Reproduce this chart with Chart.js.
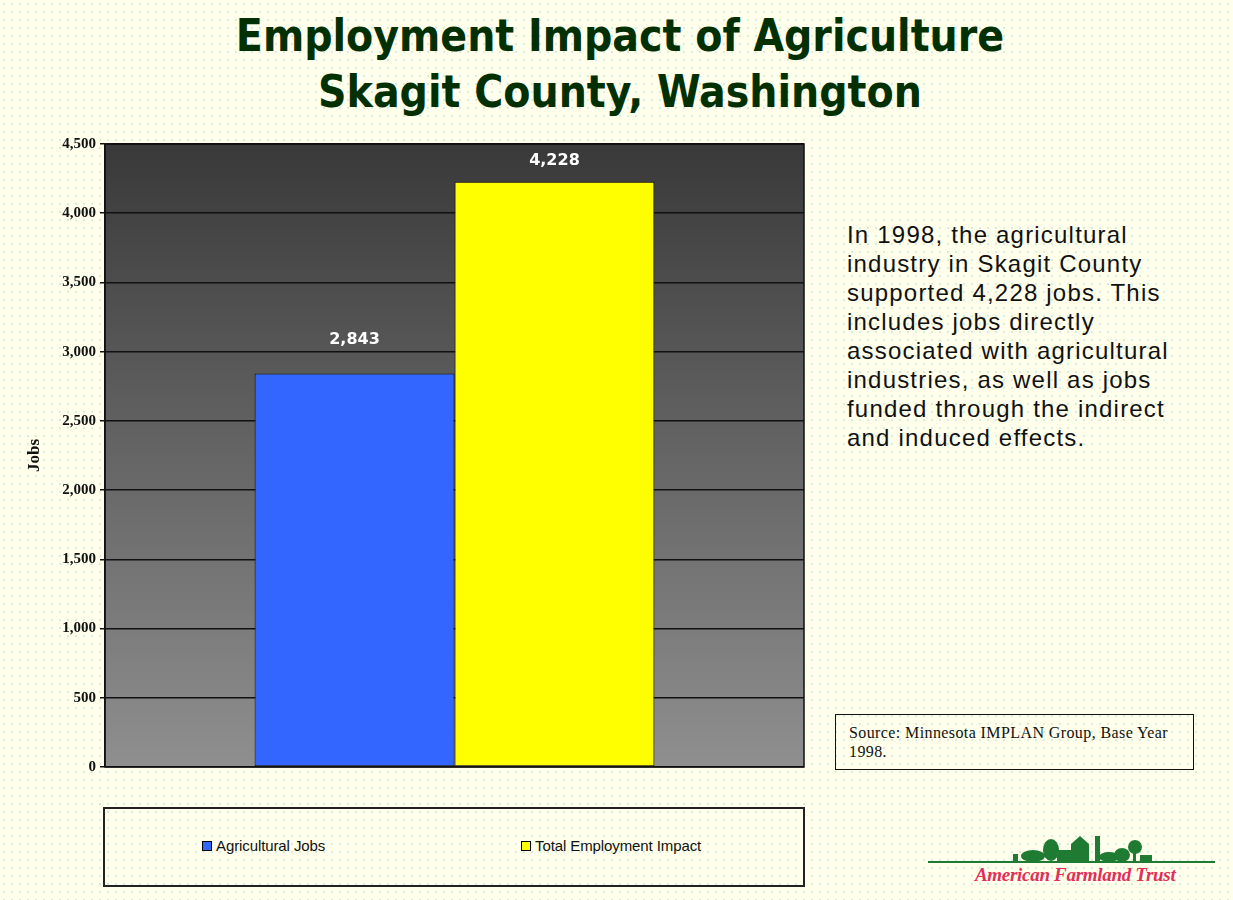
<!DOCTYPE html>
<html>
<head>
<meta charset="utf-8">
<script src="https://cdn.jsdelivr.net/npm/chart.js@4.4.1/dist/chart.umd.min.js"></script>
<style>
  html, body { margin: 0; padding: 0; }
  body {
    width: 1233px; height: 900px; position: relative; overflow: hidden;
    background-color: #ffffec;
    background-image: radial-gradient(#d6eedf 0.9px, transparent 1.2px);
    background-size: 8px 8px;
  }
  .title {
    position: absolute; left: 0; width: 1240px; text-align: center;
    font-family: "DejaVu Sans Condensed", "DejaVu Sans", sans-serif; font-weight: bold;
    font-size: 44px; color: #033003; line-height: 56px;
    top: 8px;
  }
  #wrap { position: absolute; left: 0; top: 130px; width: 815px; height: 650px; }
  #legend {
    position: absolute; left: 103px; top: 807px; width: 698px; height: 76px;
    border: 2px solid #222;
  }
  .leg-item {
    position: absolute; top: 28px; display: flex; align-items: center;
    font-family: "Liberation Sans", Arial, sans-serif; font-size: 15px; color: #111;
    letter-spacing: -0.1px;
  }
  .leg-box { width: 8px; height: 8px; border: 1px solid #000; margin-right: 4px; }
  .note {
    position: absolute; left: 847px; top: 220px; width: 386px;
    font-family: "Liberation Sans", Arial, sans-serif; font-size: 24px; line-height: 29px; color: #111;
    letter-spacing: 1.2px; white-space: nowrap;
  }
  .source {
    position: absolute; left: 835px; top: 714px; width: 359px; height: 56px;
    border: 1.5px solid #111;
    font-family: "Liberation Serif", "Times New Roman", serif; font-size: 16px; line-height: 19px; color: #111;
    letter-spacing: 0.4px;
    box-sizing: border-box; padding: 8px 0 0 13px; white-space: nowrap;
  }
  .logo { position: absolute; left: 925px; top: 830px; width: 295px; height: 60px; }
  .logo-text {
    position: absolute; left: 975px; top: 864px;
    font-family: "Liberation Serif", serif; font-style: italic; font-weight: bold;
    font-size: 19px; color: #e0305a; letter-spacing: -0.3px;
  }
</style>
</head>
<body>
<div class="title">Employment Impact of Agriculture<br>Skagit County, Washington</div>
<div id="wrap"><canvas id="myChart"></canvas></div>
<div id="legend"></div>
<div class="note">In 1998, the agricultural<br>industry in Skagit County<br>supported 4,228 jobs. This<br>includes jobs directly<br>associated with agricultural<br>industries, as well as jobs<br>funded through the indirect<br>and induced effects.</div>
<div class="source">Source: Minnesota IMPLAN Group, Base Year<br>1998.</div>
<svg class="logo" viewBox="0 0 295 60">
  <line x1="3" y1="32" x2="290" y2="32" stroke="#1f7a32" stroke-width="2"/>
  <g fill="#1f7a32">
    <rect x="88" y="24" width="5" height="8"/>
    <ellipse cx="108" cy="26" rx="12" ry="6"/>
    <ellipse cx="126" cy="20" rx="8" ry="11"/>
    <rect x="132" y="20" width="16" height="12"/>
    <polygon points="146,32 146,14 155,6 164,14 164,32"/>
    <rect x="170" y="6" width="5" height="26"/>
    <ellipse cx="184" cy="27" rx="10" ry="5"/>
    <ellipse cx="197" cy="25" rx="8" ry="7"/>
    <ellipse cx="210" cy="17" rx="7" ry="7"/>
    <rect x="208" y="17" width="3" height="15"/>
    <rect x="215" y="25" width="12" height="7"/>
  </g>
</svg>
<div class="logo-text">American Farmland Trust</div>
<script>
let categories = ['Jobs'];
let seriesNames = ['Agricultural Jobs', 'Total Employment Impact'];
let agriculturalJobs = [2843];
let totalImpact = [4228];
let yTicks = [0, 500, 1000, 1500, 2000, 2500, 3000, 3500, 4000, 4500];

// gradient grey plot background + black frame
let plotBg = {
  id: 'plotBg',
  beforeDraw(chart) {
    let a = chart.chartArea;
    let ctx = chart.ctx;
    let g = ctx.createLinearGradient(0, a.top, 0, a.bottom);
    g.addColorStop(0, '#393939');
    g.addColorStop(0.5, '#656565');
    g.addColorStop(1, '#8f8f8f');
    ctx.save();
    ctx.fillStyle = g;
    ctx.fillRect(a.left, a.top, a.right - a.left, a.bottom - a.top);
    ctx.restore();
  },
  afterDraw(chart) {
    let a = chart.chartArea;
    let ctx = chart.ctx;
    ctx.save();
    ctx.strokeStyle = '#111';
    ctx.lineWidth = 1.5;
    ctx.strokeRect(a.left, a.top, a.right - a.left, a.bottom - a.top);
    ctx.restore();
  }
};

// value labels above the bars
let labelOffsets = [34, 21];
let valueLabels = {
  id: 'valueLabels',
  afterDatasetsDraw(chart) {
    let ctx = chart.ctx;
    ctx.save();
    ctx.fillStyle = '#ffffff';
    ctx.font = 'bold 16px "DejaVu Sans", Verdana, sans-serif';
    ctx.textAlign = 'center';
    ctx.textBaseline = 'middle';
    chart.data.datasets.forEach((ds, i) => {
      chart.getDatasetMeta(i).data.forEach((bar, j) => {
        ctx.fillText(ds.data[j].toLocaleString('en-US'), bar.x, bar.y - labelOffsets[i]);
      });
    });
    ctx.restore();
  }
};

let chart = document.getElementById('myChart');
let barConfig = {
  type: 'bar',
  data: {
    labels: categories,
    datasets: [{
      label: seriesNames[0],
      data: agriculturalJobs,
      backgroundColor: '#3366ff',
      borderColor: '#111',
      borderWidth: 1,
      borderSkipped: false
    }, {
      label: seriesNames[1],
      data: totalImpact,
      backgroundColor: '#ffff00',
      borderColor: '#111',
      borderWidth: 1,
      borderSkipped: false
    }]
  },
  options: {
    responsive: true,
    maintainAspectRatio: false,
    animation: false,
    categoryPercentage: 0.572,
    barPercentage: 1,
    layout: { padding: { top: 14, bottom: 13, right: 11, left: 0 } },
    plugins: {
      legend: { display: false },
      tooltip: { enabled: false }
    },
    scales: {
      x: { display: false },
      y: {
        min: 0,
        max: 4500,
        afterBuildTicks: (scale) => { scale.ticks = yTicks.map(v => ({ value: v })); },
        afterFit: (scale) => { scale.width = 105; },
        grid: { color: '#111', lineWidth: 1.5, tickLength: 5, drawTicks: true, tickColor: '#111' },
        border: { color: '#111', width: 1.5 },
        ticks: {
          color: '#111',
          padding: 4,
          font: { family: '"Liberation Serif", "Times New Roman", serif', weight: 'bold', size: 15 },
          callback: function (value) { return value.toLocaleString('en-US'); }
        },
        title: {
          display: true,
          text: 'Jobs',
          color: '#111',
          padding: { top: 24, bottom: 0 },
          font: { family: '"Liberation Serif", "Times New Roman", serif', weight: 'bold', size: 17 }
        }
      }
    }
  },
  plugins: [plotBg, valueLabels]
};
let barChart = new Chart(chart, barConfig);

// html legend from the chart's own legend items
let legendX = [97, 416];
let legendEl = document.getElementById('legend');
barChart.options.plugins.legend.labels.generateLabels(barChart).forEach((item, i) => {
  let div = document.createElement('div');
  div.className = 'leg-item';
  div.style.left = legendX[i] + 'px';
  let box = document.createElement('span');
  box.className = 'leg-box';
  box.style.background = item.fillStyle;
  div.appendChild(box);
  div.appendChild(document.createTextNode(item.text));
  legendEl.appendChild(div);
});
</script>
</body>
</html>
